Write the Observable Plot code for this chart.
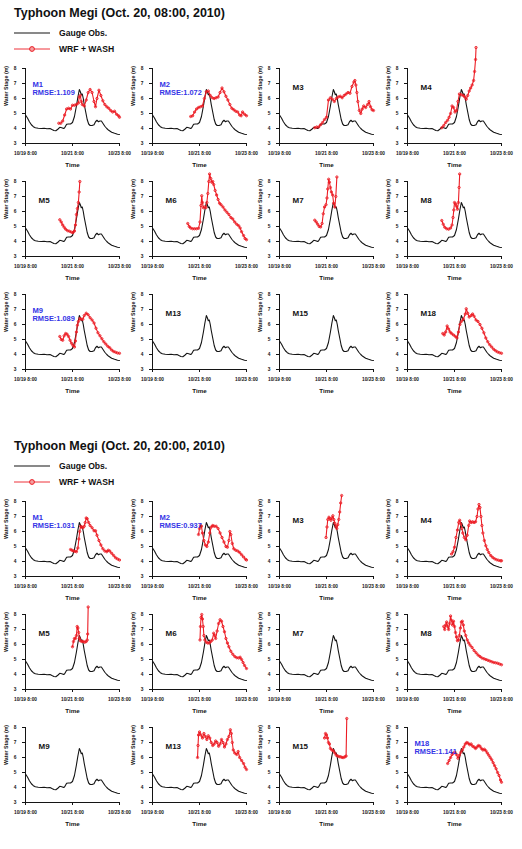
<!DOCTYPE html>
<html>
<head>
<meta charset="utf-8">
<script src="https://cdn.jsdelivr.net/npm/d3@7"></script>
<script src="https://cdn.jsdelivr.net/npm/@observablehq/plot@0.6"></script>
<style>
  body { margin: 0; background: #fff; font-family: "Liberation Sans", Arial, sans-serif; }
  #page { position: relative; width: 522px; height: 849px; overflow: hidden; background: #fff; }
  .title { position: absolute; font-weight: bold; font-size: 12.5px; line-height: 14px; white-space: nowrap; color: #111; }
  .leg { position: absolute; display: flex; align-items: center; font-weight: bold; font-size: 8.6px; color: #111; white-space: nowrap; height: 10px; }
  .leg svg { margin-right: 8px; }
  .cell { position: absolute; width: 127px; }
</style>
</head>
<body>
<div id="page"></div>
<script>
// Time axis: hours since 10/19 8:00
const timeTicks = [0, 48, 96];
const timeTickLabels = ["10/19 8:00", "10/21 8:00", "10/23 8:00"];
const stageTicks = [3, 4, 5, 6, 7, 8];

const stations = ["M1", "M2", "M3", "M4", "M5", "M6", "M7", "M8", "M9", "M13", "M15", "M18"];
const runTitles = ["Typhoon Megi (Oct. 20, 08:00, 2010)", "Typhoon Megi (Oct. 20, 20:00, 2010)"];
const legendLabels = ["Gauge Obs.", "WRF + WASH"];

// Observed gauge water stage (m)
const obsHours = [0,2,4,6,8,10,13,16,19,22,25,27,29,31,33,35,37,39,40,42,44,46,48,50,52,53.5,55,56,57,58,59,60,61.5,63,64.5,66,68,70,71.5,73,74.5,76,77.5,79,81,83,85,88,91,94,96];
const obsStage = [4.9,4.7,4.45,4.25,4.12,4.05,4.02,4.0,4.02,3.98,4.0,3.93,3.87,3.85,3.95,4.08,4.05,4.0,4.05,4.28,4.3,4.3,4.4,4.8,5.5,6.1,6.6,6.45,6.25,6.3,6.0,5.6,5.1,4.6,4.3,4.2,4.2,4.25,4.45,4.55,4.45,4.5,4.5,4.35,4.15,4.0,3.88,3.75,3.68,3.62,3.6];

// WRF + WASH simulated stage, run of Oct. 20 08:00 — [hour, stage]
const run08_M1 = [[34,4.35],[36,4.35],[38,4.5],[40,4.9],[42,5.3],[44,5.35],[46,5.3],[48,5.55],[50,5.55],[52,5.6],[54,5.7],[55,6.1],[56,6.2],[57,5.8],[58,5.6],[60,5.5],[62,5.9],[64,6.4],[66,6.6],[68,6.4],[70,5.8],[71.5,5.45],[73,6.0],[75,6.55],[77,6.2],[79,5.85],[81,5.6],[83,5.45],[85,5.35],[87,5.2],[89,5.1],[91,5.15],[93,4.95],[95,4.85],[96,4.75]];
const run08_M2 = [[39,4.8],[41,4.85],[43,5.1],[45,5.3],[47,5.4],[49,5.45],[51,5.5],[53,6.0],[55,6.45],[57,6.5],[59,6.2],[61,6.05],[63,6.0],[65,6.05],[67,6.1],[69,6.4],[71,6.7],[73,6.45],[75,6.15],[77,5.9],[79,5.6],[81,5.35],[83,5.25],[85,5.15],[87,5.1],[89,4.9],[90.5,4.85],[92,5.1],[94,4.95],[96,4.85]];
const run08_M3 = [[36,4.05],[38,4.1],[40,4.1],[42,4.25],[44,4.4],[46,4.6],[48,4.75],[50,5.9],[52,6.05],[54,5.95],[56,5.8],[58,6.0],[60,6.1],[62,6.15],[64,6.05],[66,6.2],[68,6.3],[70,6.4],[72,6.35],[74,6.8],[76,7.1],[77,7.2],[78,6.9],[79,6.4],[80,5.8],[81.5,5.2],[83,5.0],[84.5,5.3],[86,5.5],[88,5.4],[90,5.6],[91.5,5.8],[93,5.45],[94.5,5.25],[96,5.2]];
const run08_M4 = [[35,4.05],[37,4.2],[39,4.4],[41,4.55],[42.5,4.75],[44,5.0],[45.5,5.5],[47,5.4],[48.5,5.1],[50,5.2],[51.5,5.8],[53,6.3],[55,6.25],[57,6.2],[58.5,6.1],[60,5.95],[61.5,6.2],[63,6.5],[64.5,6.7],[66,6.9],[67.5,7.2],[68.5,7.8],[69.5,8.6],[70,9.4]];
const run08_M5 = [[35,5.45],[36.5,5.3],[38,5.1],[39.5,4.95],[41,4.82],[43,4.72],[45,4.68],[47,4.62],[48.5,4.6],[50,4.7],[51,5.1],[52,5.8],[53,6.2],[54,6.6],[54.8,7.3],[55.5,8.0]];
const run08_M6 = [[36,5.2],[37.5,5.0],[39,4.9],[41,4.85],[43,4.85],[45,4.85],[47,4.88],[48.5,5.3],[49.5,6.4],[50.3,7.05],[51,6.6],[52,6.25],[53,6.3],[54.5,6.25],[55.5,6.6],[56.5,7.2],[57.5,8.0],[58.3,8.5],[59.5,8.2],[60.5,7.95],[61.5,8.0],[62.5,7.8],[64,7.4],[65.5,7.1],[67,6.8],[68.5,6.55],[70,6.45],[72,6.3],[74,6.1],[76,5.95],[78,5.8],[80,5.6],[82,5.5],[84,5.3],[86,5.15],[88,5.05],[89.5,4.9],[91,4.65],[93,4.4],[94.5,4.2],[96,4.12]];
const run08_M7 = [[36,5.42],[37.5,5.3],[39,5.15],[40.5,5.0],[42,4.97],[43.5,5.2],[44.7,5.85],[46,6.3],[47.5,6.45],[48.5,6.9],[49.3,7.5],[50.2,8.15],[51,7.95],[52,7.6],[53,7.3],[54.3,7.1],[55.3,6.55],[56.5,6.3],[57.5,7.0],[58.6,8.3]];
const run08_M8 = [[35,5.4],[36.5,5.15],[38,4.95],[40,4.85],[42,4.82],[44,4.9],[45.5,5.1],[46.5,5.6],[47.3,6.1],[48,6.6],[49,6.5],[50,6.35],[51,6.15],[52,6.6],[52.7,7.6],[53.3,8.5]];
const run08_M9 = [[35,5.2],[36.5,5.0],[38,4.95],[39.5,5.25],[41,5.4],[42.5,5.35],[44,5.2],[45.5,4.95],[47,4.75],[48.5,4.6],[50,4.5],[51,4.9],[52,5.5],[53,5.95],[54,6.2],[55.5,6.4],[57,6.35],[58.5,6.35],[60,6.6],[62,6.75],[64,6.65],[66,6.45],[68,6.3],[70,6.1],[72,5.75],[74,5.45],[76,5.25],[78,5.05],[80,4.85],[82,4.7],[84,4.55],[86,4.45],[88,4.3],[90,4.2],[92,4.15],[94,4.1],[96,4.08]];
const run08_M18 = [[36,5.4],[37.5,5.3],[39,5.5],[40.5,5.9],[42,5.7],[43.5,5.5],[45,5.4],[47,5.3],[49,5.2],[50.5,5.1],[52,5.5],[53.5,6.0],[55,6.2],[57,6.35],[59,6.7],[60,7.05],[61.5,6.75],[63,6.5],[65,6.6],[66.5,6.7],[68,6.55],[70,6.3],[72,6.2],[74,6.0],[76,5.75],[78,5.45],[80,5.1],[82,4.85],[84,4.65],[86,4.5],[88,4.35],[90,4.25],[92,4.17],[94,4.12],[96,4.08]];

// WRF + WASH simulated stage, run of Oct. 20 20:00 — [hour, stage]
const run20_M1 = [[46,4.8],[47.5,4.75],[49,4.7],[50.5,4.68],[52,4.65],[53.5,4.9],[54.5,5.5],[55.3,6.0],[56.3,6.35],[57.5,6.3],[58.7,6.25],[60,6.35],[61,6.6],[62,6.9],[63,6.85],[64.5,6.6],[66,6.4],[68,6.25],[70,6.05],[71.5,6.05],[73,5.75],[75,5.4],[77,5.1],[79,4.85],[81,4.7],[83,4.65],[84.5,4.75],[86,4.7],[88,4.55],[90,4.4],[92,4.25],[94,4.17],[96,4.1]];
const run20_M2 = [[47,5.8],[48,6.2],[49,6.4],[50,6.35],[51,5.9],[52.5,5.4],[54,5.1],[55.5,5.0],[57,5.3],[58.5,5.9],[60,6.3],[61.5,6.4],[63,6.35],[65,6.35],[67,6.2],[69,5.9],[71,5.6],[73,5.3],[75,5.0],[76.5,4.95],[78,5.4],[79,6.0],[80,5.8],[81.5,5.2],[83,4.85],[85,4.75],[87,4.7],[89,4.6],[91,4.45],[93,4.3],[95,4.15],[96,4.1]];
const run20_M3 = [[47.5,5.6],[48.5,6.3],[49.3,6.8],[50.5,6.95],[51.5,6.85],[52.5,6.75],[53.5,6.9],[54.5,7.05],[55.5,6.8],[56.5,6.55],[57.5,6.35],[58.5,6.2],[59.5,6.45],[60.5,6.8],[61.5,7.3],[62.5,7.9],[63.5,8.4]];
const run20_M4 = [[45,4.5],[46.5,4.65],[48,4.95],[49.5,5.6],[51,6.1],[52.3,6.6],[53.3,6.75],[54.5,6.5],[55.5,6.2],[56.5,5.9],[58,5.6],[59.5,5.45],[61,5.75],[62.5,6.4],[63.5,6.7],[65,6.6],[66.5,6.65],[68,6.6],[69.5,6.65],[71,7.0],[72,7.5],[73,7.8],[74,7.6],[75,7.0],[76,6.4],[77,5.9],[78.5,5.4],[80,5.05],[81.5,4.8],[83,4.6],[85,4.4],[87,4.27],[89,4.18],[91,4.12],[93,4.08],[95,4.05],[96,4.05]];
const run20_M5 = [[48,5.85],[49,6.2],[50,6.4],[51,6.4],[52,6.6],[52.8,7.2],[53.5,7.1],[54.3,6.8],[55,6.4],[56,6.25],[57.5,6.2],[59,6.2],[60.5,6.15],[62,6.2],[63,6.3],[63.5,6.7],[64,8.5]];
const run20_M6 = [[48.5,6.3],[49,7.2],[49.6,7.8],[50.3,8.0],[51,7.7],[51.8,7.2],[52.5,6.6],[53.5,6.3],[55,6.15],[56.5,6.1],[58,6.1],[59.5,6.2],[61,6.3],[62.5,6.75],[63.5,6.6],[64.5,6.4],[66,6.9],[67.5,7.4],[69,7.65],[70.5,7.55],[72,7.2],[73.5,6.85],[75,6.4],[76.5,6.1],[78,5.85],[80,5.55],[82,5.35],[84,5.2],[86,5.12],[88,5.1],[89.5,5.15],[91,5.0],[92.5,4.8],[94,4.6],[96,4.4]];
const run20_M8 = [[37,7.2],[38,7.0],[39,7.3],[40,7.5],[41,7.2],[42,7.0],[43,7.4],[44,7.9],[45,7.6],[46,7.3],[47,7.55],[48,7.2],[49,6.8],[50,6.5],[51,6.25],[52,6.3],[53,6.6],[54,7.1],[55,7.5],[56,7.55],[57,7.3],[58,6.9],[59.5,6.6],[61,6.3],[62.5,6.1],[64,5.95],[66,5.8],[68,5.6],[70,5.45],[72,5.3],[74,5.2],[76,5.1],[78,5.05],[80,5.0],[82,4.95],[84,4.9],[86,4.85],[88,4.8],[90,4.78],[92,4.75],[94,4.7],[96,4.65]];
const run20_M13 = [[46,6.0],[46.5,6.8],[47,7.5],[48,7.7],[49.5,7.5],[51,7.3],[52.5,7.6],[54,7.4],[55.5,7.2],[57,7.45],[58.5,7.3],[60,7.0],[61.5,6.8],[63,6.9],[64.5,7.1],[66,7.0],[67.5,6.75],[69,6.9],[70.5,7.2],[72,7.0],[73.5,6.7],[75,6.9],[76.5,7.2],[78,7.4],[79.5,7.85],[80.5,7.6],[81.5,7.0],[82.5,6.5],[84,6.3],[86,6.2],[87.5,6.4],[89,6.0],[91,5.8],[93,5.6],[94.5,5.35],[96,5.2]];
const run20_M15 = [[46,7.3],[47,7.6],[48,7.5],[49,7.3],[50,7.0],[51,6.9],[52,6.6],[53.5,6.5],[55,6.45],[56.5,6.3],[58,6.15],[59.5,6.1],[61,6.05],[62.5,6.05],[64,6.0],[65.5,6.0],[67,6.05],[68,6.1],[68.7,8.6]];
const run20_M18 = [[41,5.6],[42.5,5.8],[44,6.0],[45.5,6.2],[47,6.3],[48.5,6.35],[50,6.2],[51.5,5.95],[53,6.15],[54.5,6.35],[56,6.5],[57.5,6.7],[59,6.9],[60.5,7.0],[62,6.95],[63.5,6.85],[65,6.9],[66.5,6.75],[68,6.7],[69.5,6.6],[71,6.7],[72.5,6.8],[74,6.75],[75.5,6.6],[77,6.5],[78.5,6.55],[80,6.45],[81.5,6.3],[83,6.15],[84.5,6.0],[86,5.85],[87.5,5.65],[89,5.45],[90.5,5.25],[92,5.0],[93.5,4.8],[95,4.5],[96,4.35]];

// Per-station simulated series (null = no simulation) and RMSE, in station order
const run08Series = [run08_M1, run08_M2, run08_M3, run08_M4, run08_M5, run08_M6, run08_M7, run08_M8, run08_M9, null, null, run08_M18];
const run20Series = [run20_M1, run20_M2, run20_M3, run20_M4, run20_M5, run20_M6, null, run20_M8, null, run20_M13, run20_M15, run20_M18];
const run08Rmse = [1.109, 1.072, null, null, null, null, null, null, 1.089, null, null, null];
const run20Rmse = [1.031, 0.937, null, null, null, null, null, null, null, null, null, 1.141];

const RED = "#ec1c24";
const BLUE = "#3434e6";
const INK = "#141414";
const FONT = "'Liberation Sans', Arial, sans-serif";

const page = document.getElementById("page");
const obsRows = obsHours.map((h, k) => ({hour: h, stage: obsStage[k]}));

function stageChart(name, series, rmse) {
  const marks = [
    Plot.ruleY([stageTicks[0]], {x1: timeTicks[0], x2: timeTicks[timeTicks.length - 1], stroke: INK, strokeWidth: 1}),
    Plot.ruleX([timeTicks[0]], {y1: stageTicks[0], y2: stageTicks[stageTicks.length - 1], stroke: INK, strokeWidth: 1}),
    Plot.line(obsRows, {x: "hour", y: "stage", stroke: INK, strokeWidth: 1.1})
  ];
  if (series) {
    const sim = series.map(([h, v]) => ({hour: h, stage: v}));
    marks.push(
      Plot.line(sim, {x: "hour", y: "stage", stroke: RED, strokeWidth: 1.1}),
      Plot.dot(sim, {x: "hour", y: "stage", r: 1.15, stroke: RED, strokeWidth: 0.9, fill: "none"})
    );
  }
  if (rmse != null) {
    marks.push(
      Plot.text([name], {text: d => d, frameAnchor: "top-left", dx: 7, dy: 13, textAnchor: "start", fill: BLUE, fontSize: 7.6, fontWeight: "bold"}),
      Plot.text(["RMSE:" + rmse.toFixed(3)], {text: d => d, frameAnchor: "top-left", dx: 7, dy: 21, textAnchor: "start", fill: BLUE, fontSize: 7.4, fontWeight: "bold"})
    );
  } else {
    marks.push(Plot.text([name], {text: d => d, frameAnchor: "top-left", dx: 13, dy: 16, textAnchor: "start", fill: INK, fontSize: 8, fontWeight: "bold"}));
  }
  marks.push(
    Plot.text(["Water Stage (m)"], {text: d => d, frameAnchor: "left", dx: -19, rotate: -90, fill: INK, fontSize: 5.3, fontWeight: "bold"}),
    Plot.text(["Time"], {text: d => d, frameAnchor: "bottom", dy: 23, fill: INK, fontSize: 6.2, fontWeight: "bold"})
  );
  return Plot.plot({
    width: 127,
    height: 127,
    marginLeft: 25,
    marginRight: 8,
    marginTop: 24,
    marginBottom: 28,
    x: {domain: [timeTicks[0], timeTicks[timeTicks.length - 1]], ticks: timeTicks, tickFormat: d => timeTickLabels[timeTicks.indexOf(d)], tickSize: 3, tickPadding: 5, label: null},
    y: {domain: [stageTicks[0], stageTicks[stageTicks.length - 1]], ticks: stageTicks, tickFormat: d => String(d), tickSize: 3, tickPadding: 6, label: null},
    style: {fontFamily: FONT, fontSize: "4.8px", fontWeight: "bold", color: INK, background: "none", overflow: "visible"},
    marks
  });
}

function legendSwatch(withMarker, color) {
  const ns = "http://www.w3.org/2000/svg";
  const svg = document.createElementNS(ns, "svg");
  svg.setAttribute("width", "37");
  svg.setAttribute("height", "8");
  const line = document.createElementNS(ns, "line");
  line.setAttribute("x1", "0"); line.setAttribute("x2", "36");
  line.setAttribute("y1", "4"); line.setAttribute("y2", "4");
  line.setAttribute("stroke", color);
  line.setAttribute("stroke-width", withMarker ? "0.9" : "1.2");
  svg.appendChild(line);
  if (withMarker) {
    const c = document.createElementNS(ns, "circle");
    c.setAttribute("cx", "18"); c.setAttribute("cy", "4"); c.setAttribute("r", "2.4");
    c.setAttribute("fill", "#f3a0a0"); c.setAttribute("stroke", color); c.setAttribute("stroke-width", "1");
    svg.appendChild(c);
  }
  return svg;
}

const colLefts = [0, 127, 254, 382];
const runTops = [0, 433];
const rowOffsets = [44, 157, 270];
const runSeries = [run08Series, run20Series];
const runRmse = [run08Rmse, run20Rmse];

runTitles.forEach((title, r) => {
  const top = runTops[r];
  const t = document.createElement("div");
  t.className = "title";
  t.style.left = "14px";
  t.style.top = (top + 6) + "px";
  t.textContent = title;
  page.appendChild(t);

  legendLabels.forEach((lab, j) => {
    const lg = document.createElement("div");
    lg.className = "leg";
    lg.style.left = "14px";
    lg.style.top = (top + 28 + j * 15.5) + "px";
    lg.appendChild(legendSwatch(j === 1, j === 1 ? RED : INK));
    const span = document.createElement("span");
    span.textContent = lab;
    lg.appendChild(span);
    page.appendChild(lg);
  });

  stations.forEach((name, i) => {
    const cell = document.createElement("div");
    cell.className = "cell";
    cell.style.left = colLefts[i % 4] + "px";
    cell.style.top = (top + rowOffsets[Math.floor(i / 4)]) + "px";
    cell.appendChild(stageChart(name, runSeries[r][i], runRmse[r][i]));
    page.appendChild(cell);
  });
});
</script>
</body>
</html>
